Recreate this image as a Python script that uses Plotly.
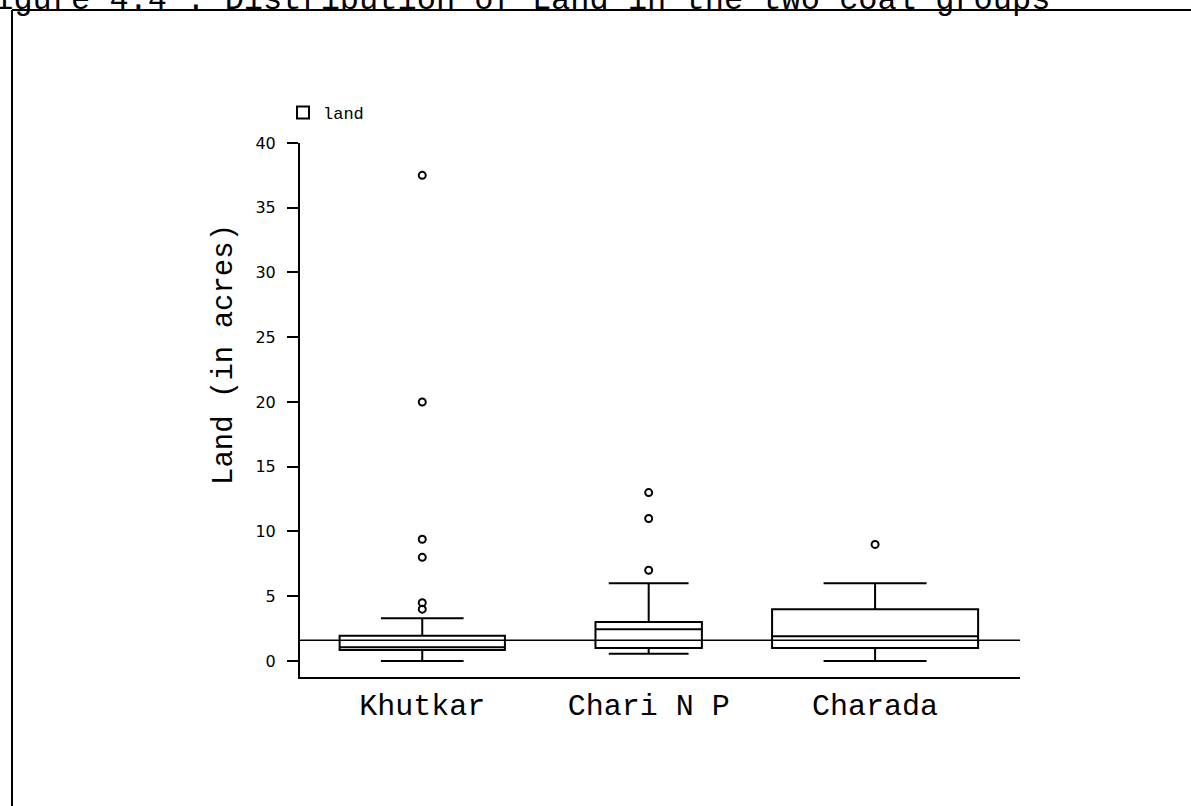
import plotly.graph_objects as go

# ---- data ----
groups = ["Khutkar", "Chari N P", "Charada"]
lower_whisker = [0.0, 0.55, 0.0]
q1_values = [0.85, 1.0, 1.0]
median_values = [1.05, 2.45, 1.9]
q3_values = [1.95, 3.0, 4.0]
upper_whisker = [3.3, 6.0, 6.0]
outliers = {
    "Khutkar": [37.5, 20.0, 9.4, 8.0, 4.5, 4.0],
    "Chari N P": [13.0, 11.0, 7.0],
    "Charada": [9.0],
}
reference_level = 1.6
y_ticks = [0, 5, 10, 15, 20, 25, 30, 35, 40]

# ---- styling ----
box_widths = [0.73, 0.47, 0.91]
cap_ratio = [0.5, 0.75, 0.5]
MONO = "Liberation Mono"

fig = go.Figure()
for i, g in enumerate(groups):
    fig.add_trace(go.Box(
        x=[g],
        q1=[q1_values[i]],
        median=[median_values[i]],
        q3=[q3_values[i]],
        lowerfence=[lower_whisker[i]],
        upperfence=[upper_whisker[i]],
        name="land",
        showlegend=(i == 0),
        legendgroup="land",
        boxpoints=False,
        width=box_widths[i],
        whiskerwidth=cap_ratio[i],
        fillcolor="white",
        line=dict(color="black", width=2),
    ))
    fig.add_trace(go.Scatter(
        x=[g] * len(outliers[g]),
        y=outliers[g],
        mode="markers",
        showlegend=False,
        marker=dict(symbol="circle-open", size=7, color="black",
                    line=dict(color="black", width=2)),
    ))

W, H = 1191, 806
L, R, T, B = 300, 1191 - 1020, 143, 806 - 677
pw, ph = W - L - R, H - T - B

def px_x(p):
    return (p - L) / pw

def px_y(p):
    return 1 - (p - T) / ph

shapes = [
    # overall reference level line
    dict(type="line", xref="x domain", yref="y", x0=0, x1=1,
         y0=reference_level, y1=reference_level,
         line=dict(color="black", width=1.5)),
    # outer frame (left and top edges)
    dict(type="line", xref="paper", yref="paper",
         x0=px_x(12), x1=px_x(12), y0=px_y(10), y1=px_y(806),
         line=dict(color="black", width=2)),
    dict(type="line", xref="paper", yref="paper",
         x0=px_x(12), x1=px_x(1191), y0=px_y(10), y1=px_y(10),
         line=dict(color="black", width=2)),
]

annotations = [
    dict(text="Figure 4.4 : Distribution of Land in the two coal groups",
         xref="paper", yref="paper", x=px_x(1052), y=px_y(21),
         xanchor="right", yanchor="bottom", showarrow=False,
         font=dict(family=MONO, size=32, color="black")),
    dict(text="Land (in acres)", textangle=-90,
         xref="paper", yref="paper", x=px_x(224), y=px_y(355),
         xanchor="center", yanchor="middle", showarrow=False,
         font=dict(family=MONO, size=29, color="black")),
]

fig.update_layout(
    width=W, height=H,
    margin=dict(l=L, r=R, t=T, b=B),
    paper_bgcolor="white",
    plot_bgcolor="white",
    shapes=shapes,
    annotations=annotations,
    showlegend=True,
    legend=dict(x=px_x(283), y=px_y(95), xanchor="left", yanchor="top",
                bgcolor="rgba(0,0,0,0)",
                font=dict(family=MONO, size=17, color="black")),
    xaxis=dict(
        type="category",
        categoryorder="array", categoryarray=groups,
        range=[-0.54, 2.64],
        showline=True, linecolor="black", linewidth=2,
        showgrid=False, zeroline=False, ticks="",
        tickfont=dict(family=MONO, size=30, color="black"),
        fixedrange=True,
    ),
    yaxis=dict(
        range=[-1.24, 40],
        tickvals=y_ticks,
        showline=True, linecolor="black", linewidth=2,
        showgrid=False, zeroline=False,
        ticks="outside", ticklen=11, tickwidth=1.5, tickcolor="black",
        ticklabelstandoff=8,
        tickfont=dict(family="DejaVu Sans", size=16, color="black"),
        fixedrange=True,
    ),
)

fig.write_html("out.html",
               config={"displayModeBar": False},
               post_script="document.body.style.margin='0px';")
